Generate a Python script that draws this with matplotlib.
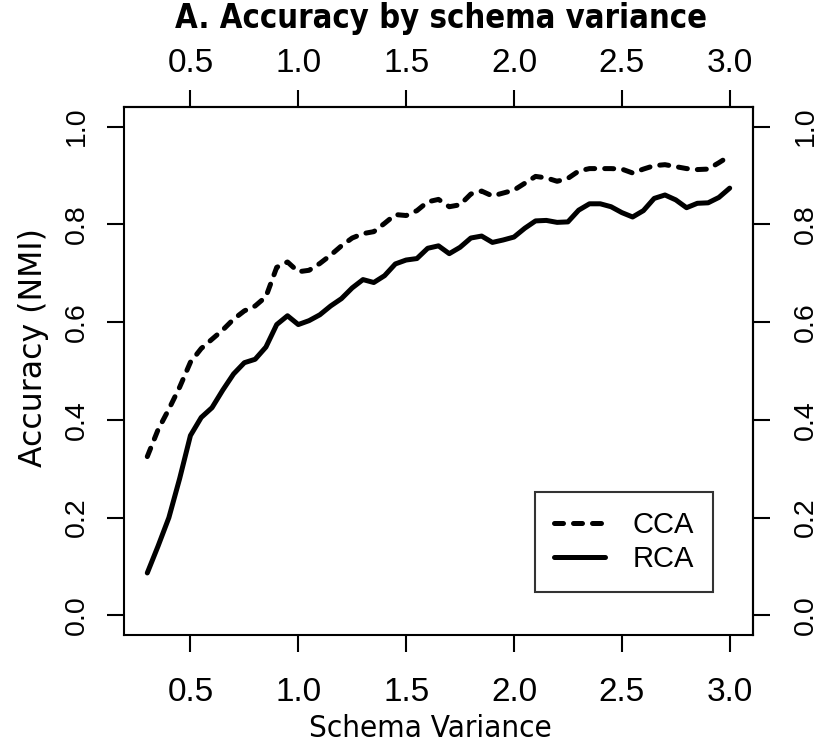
import matplotlib
matplotlib.use("Agg")
import matplotlib.pyplot as plt

# Schema variance grid and mean accuracy (NMI) for each method
variance = [0.30, 0.35, 0.40, 0.45, 0.50, 0.55, 0.60, 0.65, 0.70, 0.75,
            0.80, 0.85, 0.90, 0.95, 1.00, 1.05, 1.10, 1.15, 1.20, 1.25,
            1.30, 1.35, 1.40, 1.45, 1.50, 1.55, 1.60, 1.65, 1.70, 1.75,
            1.80, 1.85, 1.90, 1.95, 2.00, 2.05, 2.10, 2.15, 2.20, 2.25,
            2.30, 2.35, 2.40, 2.45, 2.50, 2.55, 2.60, 2.65, 2.70, 2.75,
            2.80, 2.85, 2.90, 2.95, 3.00]

cca = [0.325, 0.380, 0.422, 0.467, 0.518, 0.546, 0.565, 0.584, 0.606, 0.623,
       0.633, 0.652, 0.712, 0.723, 0.703, 0.706, 0.720, 0.737, 0.756, 0.772,
       0.781, 0.785, 0.802, 0.820, 0.818, 0.828, 0.846, 0.851, 0.836, 0.840,
       0.862, 0.868, 0.858, 0.864, 0.870, 0.884, 0.898, 0.895, 0.888, 0.894,
       0.909, 0.914, 0.914, 0.914, 0.913, 0.905, 0.913, 0.920, 0.922, 0.918,
       0.914, 0.912, 0.913, 0.926, 0.940]

rca = [0.087, 0.142, 0.200, 0.280, 0.368, 0.405, 0.425, 0.461, 0.494, 0.517,
       0.524, 0.549, 0.595, 0.613, 0.595, 0.603, 0.615, 0.633, 0.648, 0.670,
       0.687, 0.681, 0.695, 0.719, 0.727, 0.730, 0.751, 0.756, 0.740, 0.753,
       0.772, 0.776, 0.763, 0.768, 0.774, 0.792, 0.807, 0.808, 0.804, 0.805,
       0.829, 0.842, 0.842, 0.836, 0.824, 0.815, 0.828, 0.853, 0.860, 0.850,
       0.834, 0.843, 0.844, 0.855, 0.874]

x_ticks = [0.5, 1.0, 1.5, 2.0, 2.5, 3.0]
y_ticks = [0.0, 0.2, 0.4, 0.6, 0.8, 1.0]

TICK_FONT = ["Liberation Sans", "DejaVu Sans"]
LABEL_FONT = ["DejaVu Sans"]

fig = plt.figure(figsize=(8.25, 7.55), dpi=100)
ax = fig.add_axes([0.1503, 0.1589, 0.7624, 0.6994])

lw = 3.6
ax.plot(variance, cca, color="black", lw=lw, linestyle=(0, (1.8, 2.0)),
        dash_capstyle="round", dash_joinstyle="round", label="CCA")
ax.plot(variance, rca, color="black", lw=lw, solid_capstyle="round",
        solid_joinstyle="round", label="RCA")

xmin, xmax = min(variance), max(variance)
pad = 0.04 * (xmax - xmin)
ax.set_xlim(xmin - pad, xmax + pad)
ax.set_ylim(-0.04, 1.04)

tick_kw = dict(direction="out", length=12.5, width=1.5, color="black")
fmt = lambda v: f"{v:.1f}"

# bottom / left axes
ax.set_xticks(x_ticks, [fmt(t) for t in x_ticks])
ax.set_yticks(y_ticks, [fmt(t) for t in y_ticks])
ax.tick_params(axis="x", pad=18, labelsize=24, **tick_kw)
ax.tick_params(axis="y", pad=12, labelsize=20.5, **tick_kw)

# top / right axes
top = ax.secondary_xaxis("top")
top.set_xticks(x_ticks, [fmt(t) for t in x_ticks])
top.tick_params(axis="x", pad=8, labelsize=24, **tick_kw)
right = ax.secondary_yaxis("right")
right.set_yticks(y_ticks, [fmt(t) for t in y_ticks])
right.tick_params(axis="y", pad=16, labelsize=20.5, **tick_kw)

for lab in ax.get_xticklabels() + top.get_xticklabels():
    lab.set_family(TICK_FONT)
    lab.set_fontstretch("condensed")
for lab in ax.get_yticklabels() + right.get_yticklabels():
    lab.set_family(TICK_FONT)
    lab.set_rotation(90)
    lab.set_va("center")

for a in (ax, top, right):
    for s in a.spines.values():
        s.set_linewidth(1.5)
        s.set_color("black")

ax.set_xlabel("Schema Variance", fontsize=22.5, family=LABEL_FONT,
              fontstretch="condensed")
ax.xaxis.set_label_coords(0.487, -0.150)
ax.set_ylabel("Accuracy (NMI)", fontsize=22.7, family=LABEL_FONT)
ax.yaxis.set_label_coords(-0.119, 0.544)

fig.text(0.534, 0.976, "A. Accuracy by schema variance", ha="center",
         va="center", fontsize=23.5, fontweight="bold", family=LABEL_FONT,
         fontstretch="condensed")

leg = ax.legend(loc="upper left", bbox_to_anchor=(0.653, 0.271),
                frameon=True, fancybox=False,
                prop={"family": TICK_FONT, "size": 21},
                handlelength=1.75, handletextpad=0.95, borderpad=0.65,
                labelspacing=0.2, borderaxespad=0.0)
leg.get_frame().set_edgecolor("black")
leg.get_frame().set_linewidth(1.5)

fig.savefig("out.png", dpi=100)
